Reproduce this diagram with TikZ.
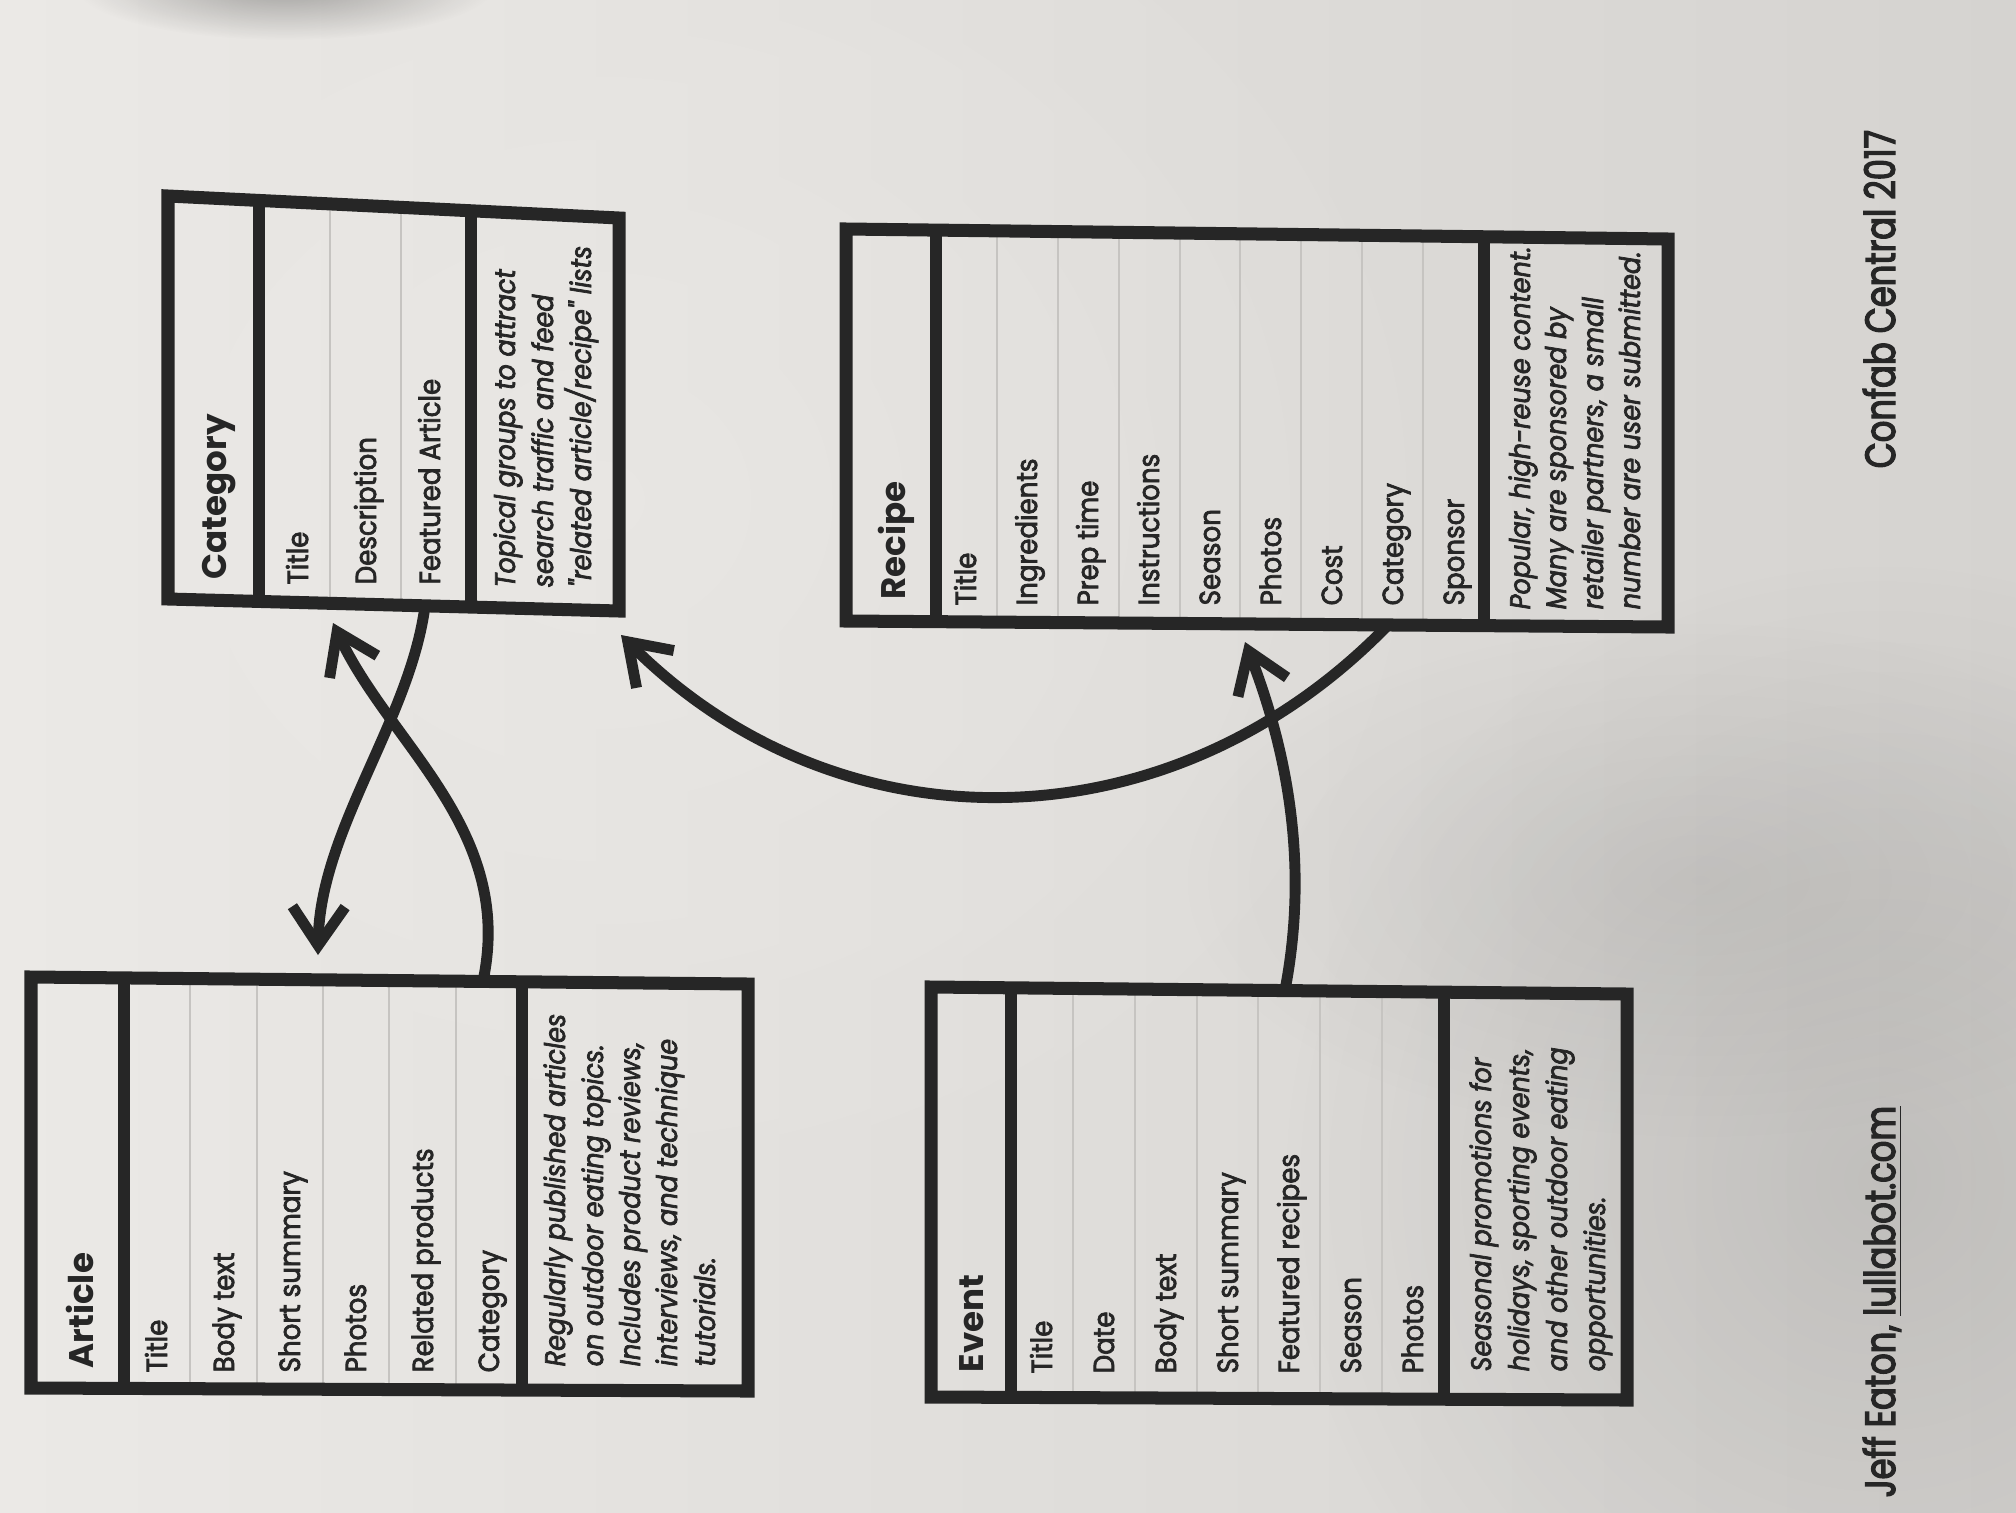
\documentclass[tikz,border=0pt]{standalone}
\usepackage{fontspec}
\newfontfamily\bodyfont{Poppins}[FakeStretch=0.9, FakeBold=2.5]
\newfontfamily\headfont{Poppins}
\newfontfamily\footfont{Poppins}[FakeStretch=0.8, FakeBold=3]
\usetikzlibrary{arrows.meta,fadings}

\definecolor{ink}{HTML}{262626}
\definecolor{paperlight}{HTML}{EBE9E6}
\definecolor{paperdark}{HTML}{D5D3D0}
\definecolor{rulegray}{HTML}{C6C4C1}

\tikzfading[name=softblob, inner color=transparent!0, outer color=transparent!100]

\tikzset{
  frame/.style={draw=ink, line width=3.7pt, line join=miter},
  divider/.style={draw=ink, line width=3.4pt},
  rowrule/.style={draw=rulegray, line width=0.5pt},
  field/.style={rotate=90, anchor=base west, inner sep=0pt, text=ink,
    font=\bodyfont\fontsize{8.25}{10}\selectfont},
  note/.style={field, font=\bodyfont\itshape\fontsize{8.05}{10}\selectfont},
  heading/.style={field, font=\headfont\bfseries\fontsize{9.7}{12}\selectfont},
  foot/.style={field, font=\footfont\fontsize{12}{14}\selectfont},
  link/.style={draw=ink, line width=3.1pt,
    -{Straight Barb[length=11pt,width=15pt]}},
}

\begin{document}
\begin{tikzpicture}[x=0.01cm, y=-0.01cm]
% paper
\useasboundingbox (0,0) rectangle (2016,1512);
\shade[left color=paperlight, right color=paperdark] (0,0) rectangle (2016,1512);
\fill[paperlight, opacity=0.6, path fading=softblob] (600,500) ellipse [x radius=900, y radius=800];
\fill[black, opacity=0.3, path fading=softblob] (285,-15) ellipse [x radius=210, y radius=55];
\fill[black!70, opacity=0.16, path fading=softblob] (1880,1180) ellipse [x radius=600, y radius=620];
\fill[black!70, opacity=0.1, path fading=softblob] (1700,880) ellipse [x radius=520, y radius=260];

% ---------- Category ----------
\begin{scope}
  \clip (168,196) -- (619,218) -- (619,611) -- (168,599) -- cycle;
  \foreach \x in {330,401} \draw[rowrule] (\x,150) -- (\x,650);
  \draw[divider] (259,150) -- (259,650);
  \draw[divider] (471,150) -- (471,650);
\end{scope}
\draw[frame] (168,196) -- (619,218) -- (619,611) -- (168,599) -- cycle;
\node[heading] (cat-title) at (226,580) {Category};
\node[field] (cat-f1) at (308,585) {Title};
\node[field] (cat-f2) at (376,585) {Description};
\node[field] (cat-f3) at (440,585) {Featured Article};
\node[note] (cat-d1) at (515,588) {Topical groups to attract};
\node[note] (cat-d2) at (553,588) {search traffic and feed};
\node[note] (cat-d3) at (591,588) {"related article/recipe" lists};

% ---------- Recipe ----------
\begin{scope}
  \clip (846,229) -- (1668,239) -- (1668,627) -- (846,621) -- cycle;
  \foreach \x in {997,1058,1119,1180,1240,1301,1362,1423} \draw[rowrule] (\x,150) -- (\x,700);
  \draw[divider] (936,150) -- (936,700);
  \draw[divider] (1484,150) -- (1484,700);
\end{scope}
\draw[frame] (846,229) -- (1668,239) -- (1668,627) -- (846,621) -- cycle;
\node[heading] (rec-title) at (905,600) {Recipe};
\node[field] (rec-f1) at (976,606) {Title};
\node[field] (rec-f2) at (1037,606) {Ingredients};
\node[field] (rec-f3) at (1098,606) {Prep time};
\node[field] (rec-f4) at (1159,606) {Instructions};
\node[field] (rec-f5) at (1220,606) {Season};
\node[field] (rec-f6) at (1281,606) {Photos};
\node[field] (rec-f7) at (1342,606) {Cost};
\node[field] (rec-f8) at (1403,606) {Category};
\node[field] (rec-f9) at (1464,606) {Sponsor};
\node[note] (rec-d1) at (1530,610) {Popular, high-reuse content.};
\node[note] (rec-d2) at (1566,610) {Many are sponsored by};
\node[note] (rec-d3) at (1603,610) {retailer partners, a small};
\node[note] (rec-d4) at (1640,610) {number are user submitted.};

% ---------- Article ----------
\begin{scope}
  \clip (31,977) -- (748,984) -- (748,1391) -- (31,1388) -- cycle;
  \foreach \x in {190,257,323,389,456} \draw[rowrule] (\x,900) -- (\x,1450);
  \draw[divider] (124,900) -- (124,1450);
  \draw[divider] (522,900) -- (522,1450);
\end{scope}
\draw[frame] (31,977) -- (748,984) -- (748,1391) -- (31,1388) -- cycle;
\node[heading] (art-title) at (93,1369) {Article};
\node[field] (art-f1) at (167,1373) {Title};
\node[field] (art-f2) at (234,1373) {Body text};
\node[field] (art-f3) at (300,1373) {Short summary};
\node[field] (art-f4) at (366,1373) {Photos};
\node[field] (art-f5) at (433,1373) {Related products};
\node[field] (art-f6) at (499,1373) {Category};
\node[note] (art-d1) at (565,1367) {Regularly published articles};
\node[note] (art-d2) at (603,1367) {on outdoor eating topics.};
\node[note] (art-d3) at (640,1367) {Includes product reviews,};
\node[note] (art-d4) at (677,1367) {interviews, and technique};
\node[note] (art-d5) at (715,1367) {tutorials.};

% ---------- Event ----------
\begin{scope}
  \clip (931,987) -- (1627,994) -- (1627,1400) -- (931,1397) -- cycle;
  \foreach \x in {1073,1135,1197,1258,1320,1382} \draw[rowrule] (\x,900) -- (\x,1450);
  \draw[divider] (1011,900) -- (1011,1450);
  \draw[divider] (1444,900) -- (1444,1450);
\end{scope}
\draw[frame] (931,987) -- (1627,994) -- (1627,1400) -- (931,1397) -- cycle;
\node[heading] (evt-title) at (983,1373) {Event};
\node[field] (evt-f1) at (1052,1374) {Title};
\node[field] (evt-f2) at (1114,1374) {Date};
\node[field] (evt-f3) at (1176,1374) {Body text};
\node[field] (evt-f4) at (1238,1374) {Short summary};
\node[field] (evt-f5) at (1299,1374) {Featured recipes};
\node[field] (evt-f6) at (1361,1374) {Season};
\node[field] (evt-f7) at (1423,1374) {Photos};
\node[note] (evt-d1) at (1491,1372) {Seasonal promotions for};
\node[note] (evt-d2) at (1529,1372) {holidays, sporting events,};
\node[note] (evt-d3) at (1567,1372) {and other outdoor eating};
\node[note] (evt-d4) at (1605,1372) {opportunities.};

% ---------- connector ends ----------
\coordinate (cat-out) at (425,606);
\coordinate (art-in) at (318,955);
\coordinate (art-out) at (483,981);
\coordinate (cat-in-a) at (333,623);
\coordinate (rec-out) at (1388,625);
\coordinate (cat-in-r) at (621,635);
\coordinate (evt-out) at (1285,990);
\coordinate (rec-in) at (1245,642);

\draw[link] (cat-out) .. controls (410,720) and (320,830) .. (art-in);
\draw[link] (art-out) .. controls (515,830) and (390,745) .. (cat-in-a);
\draw[link] (rec-out) .. controls (1170,850) and (839,853) .. (cat-in-r);
\draw[link] (evt-out) .. controls (1310,860) and (1285,745) .. (rec-in);

% ---------- footer ----------
\node[foot] (credit) at (1895,1498) {Jeff Eaton, \underline{lullabot.com}};
\node[foot] (event-name) at (1895,469) {Confab Central 2017};
\end{tikzpicture}
\end{document}
